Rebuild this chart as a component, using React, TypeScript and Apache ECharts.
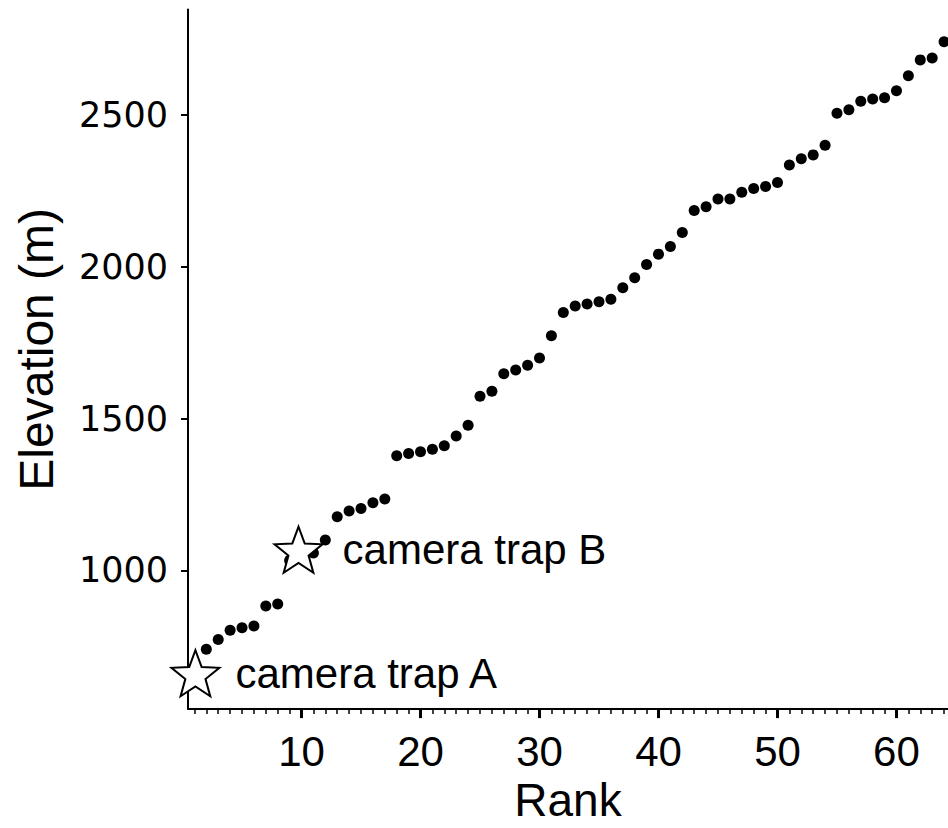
import React, { useEffect, useRef } from "react";
import * as echarts from "echarts";

const ranks = [
  1, 2, 3, 4, 5, 6, 7, 8, 9, 10, 11, 12, 13, 14, 15, 16, 17, 18, 19, 20, 21, 22,
  23, 24, 25, 26, 27, 28, 29, 30, 31, 32, 33, 34, 35, 36, 37, 38, 39, 40, 41,
  42, 43, 44, 45, 46, 47, 48, 49, 50, 51, 52, 53, 54, 55, 56, 57, 58, 59, 60,
  61, 62, 63, 64,
];
const elevations = [
  655, 740, 772, 803, 811, 817, 883, 889, 1033, 1048, 1057, 1100, 1177, 1196,
  1204, 1223, 1235, 1378, 1385, 1391, 1399, 1411, 1443, 1478, 1574, 1590, 1648,
  1660, 1676, 1700, 1773, 1850, 1871, 1878, 1885, 1893, 1931, 1964, 2008, 2042,
  2067, 2113, 2186, 2198, 2224, 2224, 2246, 2258, 2265, 2278, 2336, 2356, 2369,
  2401, 2506, 2518, 2546, 2553, 2557, 2580, 2630, 2682, 2688, 2742,
];
const cameraTrapNames = ["camera trap A", "camera trap B"];
const cameraTrapRanks = [1, 10];
const cameraTrapElevations = [661, 1068];
const xTickValues = [10, 20, 30, 40, 50, 60];
const xMinorTickValues = ranks;
const yTickValues = [1000, 1500, 2000, 2500];

const X_MIN = 0.46;
const X_MAX = 64.33;
const Y_MIN = 543;
const Y_MAX = 2848;

const STAR =
  "path://M50 0 L62.34 33.01 L97.55 34.55 L69.97 56.49 L79.39 90.45 L50 71 L20.61 90.45 L30.03 56.49 L2.45 34.55 L37.66 33.01 Z";

export default function App() {
  const ref = useRef<HTMLDivElement>(null);
  useEffect(() => {
    if (!ref.current) return;
    const chart = echarts.init(ref.current, null, { renderer: "svg" });
    const sans = "'Liberation Sans', Arial, sans-serif";
    chart.setOption({
      animation: false,
      backgroundColor: "#ffffff",
      grid: { left: 188, right: 0, top: 9.5, bottom: 112 },
      xAxis: [
        {
          type: "value",
          min: X_MIN,
          max: X_MAX,
          position: "bottom",
          axisLine: { show: true, onZero: false, lineStyle: { color: "#000", width: 2 } },
          axisTick: {
            show: true,
            customValues: xTickValues,
            length: 9,
            lineStyle: { color: "#000", width: 3 },
          },
          axisLabel: {
            customValues: xTickValues,
            formatter: (v: number) => String(v),
            fontFamily: sans,
            fontSize: 42,
            color: "#000",
            margin: 21,
          },
          splitLine: { show: false },
          name: "Rank",
          nameLocation: "middle",
          nameGap: 65,
          nameTextStyle: { fontFamily: sans, fontSize: 46, color: "#000" },
        },
        {
          type: "value",
          min: X_MIN,
          max: X_MAX,
          position: "bottom",
          axisLine: { show: false, onZero: false },
          axisTick: {
            show: true,
            customValues: xMinorTickValues,
            length: 5,
            lineStyle: { color: "#000", width: 1.5 },
          },
          axisLabel: { show: false },
          splitLine: { show: false },
        },
      ],
      yAxis: {
        type: "value",
        min: Y_MIN,
        max: Y_MAX,
        axisLine: { show: true, onZero: false, lineStyle: { color: "#000", width: 2 } },
        axisTick: {
          show: true,
          customValues: yTickValues,
          length: 7,
          lineStyle: { color: "#000", width: 2 },
        },
        axisLabel: {
          customValues: yTickValues,
          formatter: (v: number) => String(v),
          fontFamily: "'DejaVu Sans', sans-serif",
          fontSize: 35,
          color: "#000",
          margin: 20,
        },
        splitLine: { show: false },
        name: "Elevation (m)",
        nameLocation: "middle",
        nameGap: 128,
        nameTextStyle: { fontFamily: sans, fontSize: 48, color: "#000", padding: [0, 0, 0, 20] },
      },
      series: [
        {
          type: "scatter",
          xAxisIndex: 0,
          data: ranks.map((r, i) => [r, elevations[i]]),
          symbol: "circle",
          symbolSize: 11,
          itemStyle: { color: "#000", opacity: 1 },
          z: 2,
        },
        {
          type: "scatter",
          xAxisIndex: 0,
          data: cameraTrapNames.map((n, i) => ({
            name: n,
            value: [cameraTrapRanks[i], cameraTrapElevations[i]],
            symbolOffset: i === 0 ? [1, 0] : [-3, 0],
            label: { distance: i === 0 ? 15 : 19 },
          })),
          symbol: STAR,
          symbolSize: [48, 46],
          itemStyle: { color: "#fff", borderColor: "#000", borderWidth: 2, opacity: 1 },
          label: {
            show: true,
            position: "right",
            formatter: (p: any) => p.name,
            fontFamily: sans,
            fontSize: 42,
            color: "#000",
            opacity: 1,
          },
          z: 3,
        },
      ],
    });
    return () => chart.dispose();
  }, []);
  return (
    <div
      ref={ref}
      style={{ position: "fixed", left: 0, top: 0, width: 948, height: 828, background: "#fff" }}
    />
  );
}
